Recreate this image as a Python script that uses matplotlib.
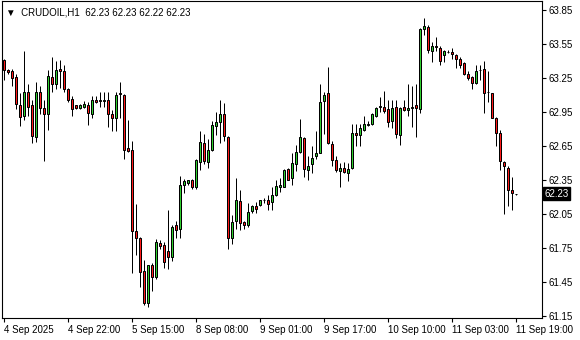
import numpy as np
import matplotlib
matplotlib.use("Agg")
import matplotlib.pyplot as plt

plt.rcParams['font.family'] = ['Liberation Sans', 'DejaVu Sans']

# CRUDOIL H1 bars (open, high, low, close)
opens = [63.41, 63.32, 63.31, 63.26, 63.01, 62.92, 63.13, 63.01, 62.73, 63.13,
         62.99, 62.93, 63.26, 63.20, 63.33, 63.31, 63.15, 63.07, 63.01, 62.99,
         63.00, 63.01, 62.93, 63.06, 63.05, 63.05, 63.06, 62.93, 62.90, 63.115,
         63.10, 62.63, 62.62, 61.90, 61.84, 61.55, 61.27, 61.60, 61.50, 61.80,
         61.78, 61.73, 61.67, 61.96, 61.92, 62.31, 62.33, 62.35, 62.29, 62.51,
         62.68, 62.51, 62.62, 62.83, 62.86, 62.93, 62.73, 61.84, 61.99, 62.17,
         61.98, 61.96, 62.08, 62.12, 62.13, 62.173, 62.18, 62.16, 62.22, 62.29,
         62.29, 62.45, 62.37, 62.49, 62.60, 62.72, 62.44, 62.49, 62.56, 62.59,
         63.05, 63.12, 62.67, 62.53, 62.43, 62.46, 62.41, 62.46, 62.77, 62.75,
         62.79, 62.84, 62.85, 62.92, 62.998, 63.00, 62.98, 62.87, 63.00, 62.75,
         63.00, 62.97, 62.99, 63.01, 62.98, 63.68, 63.70, 63.49, 63.533, 63.52,
         63.45, 63.483, 63.48, 63.45, 63.42, 63.38, 63.29, 63.26, 63.21, 63.318,
         63.33, 63.13, 63.12, 62.90, 62.77, 62.51, 62.46, 62.26, 62.23]
highs = [63.42, 63.33, 63.33, 63.29, 63.12, 63.49, 63.20, 63.06, 63.22, 63.18,
         63.06, 63.32, 63.44, 63.40, 63.41, 63.37, 63.16, 63.09, 63.01, 63.02,
         63.05, 63.04, 63.09, 63.09, 63.13, 63.13, 63.13, 62.97, 63.13, 63.22,
         63.11, 62.88, 62.70, 62.14, 61.85, 61.65, 61.60, 61.62, 61.83, 61.82,
         61.81, 62.09, 61.96, 61.99, 62.39, 62.36, 62.35, 62.36, 62.54, 62.78,
         62.76, 62.71, 62.87, 62.95, 63.06, 63.03, 62.74, 62.04, 62.37, 62.26,
         61.99, 62.15, 62.13, 62.16, 62.18, 62.19, 62.22, 62.29, 62.35, 62.37,
         62.45, 62.46, 62.59, 62.66, 62.89, 62.73, 62.56, 62.65, 62.78, 63.20,
         63.13, 63.35, 62.70, 62.56, 62.50, 62.51, 62.50, 62.85, 62.85, 62.85,
         62.92, 62.87, 62.94, 63.00, 63.08, 63.14, 63.06, 63.06, 63.06, 63.00,
         63.06, 63.20, 63.18, 63.20, 63.69, 63.78, 63.72, 63.57, 63.61, 63.53,
         63.50, 63.50, 63.52, 63.46, 63.44, 63.39, 63.31, 63.27, 63.37, 63.37,
         63.40, 63.31, 63.12, 62.91, 62.79, 62.52, 62.48, 62.38, 62.23]
lows = [63.23, 63.29, 63.18, 62.98, 62.83, 62.88, 62.92, 62.68, 62.69, 62.93,
        62.52, 62.79, 63.13, 63.15, 63.16, 63.13, 63.04, 62.92, 62.98, 62.98,
        62.99, 62.84, 62.90, 63.03, 63.00, 63.00, 62.82, 62.78, 62.78, 62.90,
        62.54, 62.60, 61.53, 61.69, 61.41, 61.25, 61.23, 61.37, 61.48, 61.74,
        61.58, 61.57, 61.64, 61.84, 61.84, 62.24, 62.31, 62.27, 62.27, 62.44,
        62.49, 62.46, 62.61, 62.75, 62.68, 62.70, 61.74, 61.79, 61.92, 61.91,
        61.92, 61.94, 62.06, 62.06, 62.12, 62.15, 62.09, 62.09, 62.21, 62.25,
        62.29, 62.35, 62.31, 62.43, 62.59, 62.38, 62.35, 62.41, 62.54, 62.59,
        62.76, 62.67, 62.48, 62.42, 62.29, 62.41, 62.34, 62.45, 62.65, 62.65,
        62.78, 62.83, 62.84, 62.91, 62.95, 62.94, 62.82, 62.81, 62.72, 62.66,
        62.96, 62.92, 62.82, 62.73, 62.94, 63.63, 63.47, 63.39, 63.49, 63.37,
        63.39, 63.47, 63.42, 63.34, 63.34, 63.28, 63.23, 63.15, 63.20, 63.23,
        62.94, 63.04, 62.90, 62.65, 62.44, 62.05, 62.12, 62.09, 62.22]
closes = [63.32, 63.30, 63.25, 63.02, 62.91, 63.13, 63.00, 62.74, 63.13, 62.99,
          62.93, 63.27, 63.20, 63.32, 63.31, 63.15, 63.06, 62.98, 62.99, 63.01,
          63.02, 62.94, 63.06, 63.04, 63.06, 63.06, 62.93, 62.90, 63.10, 63.11,
          62.62, 62.61, 61.90, 61.84, 61.54, 61.27, 61.60, 61.50, 61.81, 61.77,
          61.63, 61.67, 61.94, 61.91, 62.31, 62.34, 62.35, 62.29, 62.53, 62.69,
          62.52, 62.62, 62.84, 62.86, 62.93, 62.74, 61.84, 61.98, 62.18, 61.97,
          61.96, 62.07, 62.12, 62.10, 62.18, 62.179, 62.14, 62.22, 62.30, 62.31,
          62.44, 62.35, 62.50, 62.60, 62.73, 62.45, 62.48, 62.55, 62.59, 63.04,
          63.10, 62.68, 62.53, 62.44, 62.46, 62.42, 62.45, 62.77, 62.75, 62.81,
          62.85, 62.85, 62.93, 62.99, 63.004, 62.96, 62.86, 62.99, 62.76, 62.99,
          62.97, 62.99, 63.00, 62.99, 63.68, 63.71, 63.50, 63.53, 63.527, 63.40,
          63.49, 63.480, 63.46, 63.42, 63.37, 63.29, 63.25, 63.21, 63.31, 63.321,
          63.12, 63.125, 62.90, 62.77, 62.52, 62.48, 62.26, 62.24, 62.23]

time_labels = ["4 Sep 2025", "4 Sep 22:00", "5 Sep 15:00", "8 Sep 08:00",
               "9 Sep 01:00", "9 Sep 17:00", "10 Sep 10:00", "11 Sep 03:00",
               "11 Sep 19:00"]
price_ticks = [63.85, 63.55, 63.25, 62.95, 62.65, 62.35, 62.05, 61.75, 61.45, 61.15]
last_price = 62.23
header = "CRUDOIL,H1  62.23 62.23 62.22 62.23"

o = np.array(opens)
h = np.array(highs)
l = np.array(lows)
c = np.array(closes)
x = np.arange(len(o))
up = c >= o

fig = plt.figure(figsize=(5.8, 3.4), dpi=100)
# 4 px per bar, bar centres on pixel centres
ax = fig.add_axes([1.5 / 580, 22 / 340, 540 / 580, 317 / 340])

# wicks then bodies (black outline, coloured fill like MT4)
ax.vlines(x, l, h, color='black', linewidth=0.72, zorder=1)
bottom = np.minimum(o, c)
height = np.abs(c - o)
ax.bar(x[up], height[up], bottom=bottom[up], width=0.5, color='#2fd02f',
       edgecolor='black', linewidth=0.72, zorder=2)
ax.bar(x[~up], height[~up], bottom=bottom[~up], width=0.5, color='#ff1a1a',
       edgecolor='black', linewidth=0.72, zorder=2)

ax.set_xlim(-0.5, 134.5)
ax.set_ylim(61.136, 63.93)

for sp in ax.spines.values():
    sp.set_color('black')
    sp.set_linewidth(0.8)

ax.yaxis.tick_right()
ax.set_yticks(price_ticks)
ax.set_yticklabels([f"{p:.2f}" for p in price_ticks])
ax.tick_params(axis='y', direction='out', length=3, width=0.8, pad=2,
               labelsize=7, colors='black')

xt = np.arange(0, len(o), 16)
ax.set_xticks(xt)
ax.set_xticklabels(time_labels, ha='left')
ax.tick_params(axis='x', direction='out', length=3, width=0.8, pad=2,
               labelsize=7, colors='black')

# current price marker on the scale
ax.text(1.005, last_price, f"{last_price:.2f}", transform=ax.get_yaxis_transform(),
        ha='left', va='center', fontsize=7, color='white',
        bbox=dict(boxstyle='square,pad=0.15', fc='black', ec='black'))

ax.text(0.008, 0.965, "\u25bc  " + header, transform=ax.transAxes,
        ha='left', va='center', fontsize=7, color='black',
        family=['Liberation Sans', 'DejaVu Sans'])

fig.savefig("out.png", dpi=100)
